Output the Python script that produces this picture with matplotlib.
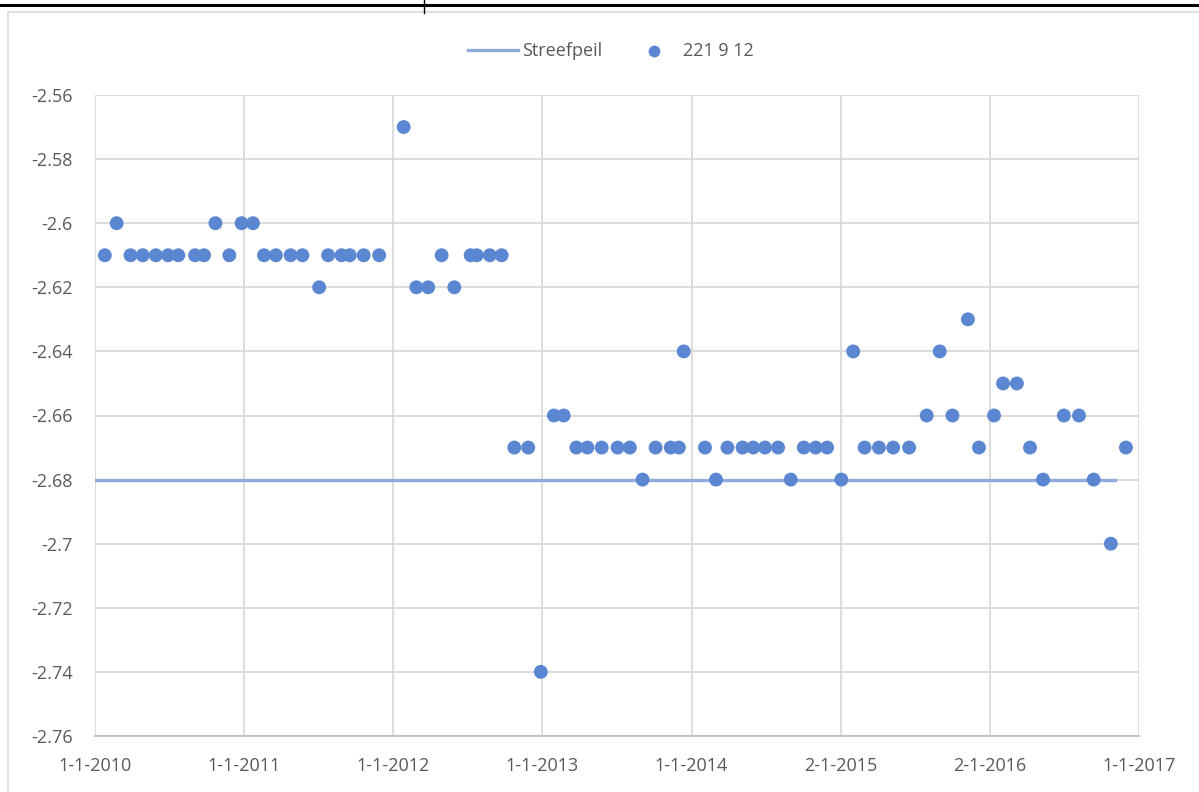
import matplotlib
matplotlib.use("Agg")
import matplotlib.pyplot as plt
import matplotlib.dates as mdates
from matplotlib.lines import Line2D
from matplotlib.patches import Rectangle
import numpy as np
import pandas as pd

plt.rcParams['font.family'] = ['Open Sans', 'DejaVu Sans']

# measurement dates and levels (221 9 12)
meet_datums = [
    '2010-01-25', '2010-02-23', '2010-03-29', '2010-04-28', '2010-05-30', '2010-06-29',
    '2010-07-24', '2010-09-03', '2010-09-25', '2010-10-23', '2010-11-26', '2010-12-26',
    '2011-01-23', '2011-02-19', '2011-03-20', '2011-04-25', '2011-05-24', '2011-07-04',
    '2011-07-26', '2011-08-28', '2011-09-17', '2011-10-21', '2011-11-28', '2012-01-27',
    '2012-02-27', '2012-03-27', '2012-04-29', '2012-05-30', '2012-07-09', '2012-07-24',
    '2012-08-25', '2012-09-23', '2012-10-24', '2012-11-27', '2012-12-28', '2013-01-29',
    '2013-02-22', '2013-03-25', '2013-04-21', '2013-05-26', '2013-07-04', '2013-08-03',
    '2013-09-03', '2013-10-05', '2013-11-11', '2013-12-01', '2013-12-13', '2014-02-03',
    '2014-03-02', '2014-03-30', '2014-05-06', '2014-06-01', '2014-06-30', '2014-08-01',
    '2014-09-01', '2014-10-03', '2014-11-01', '2014-11-29', '2015-01-03', '2015-02-01',
    '2015-03-01', '2015-04-05', '2015-05-10', '2015-06-18', '2015-07-31', '2015-09-01',
    '2015-10-02', '2015-11-09', '2015-12-06', '2016-01-12', '2016-02-03', '2016-03-08',
    '2016-04-09', '2016-05-11', '2016-07-01', '2016-08-07', '2016-09-12', '2016-10-24',
    '2016-11-30',
]
meet_waarden = [
    -2.61, -2.60, -2.61, -2.61, -2.61, -2.61,
    -2.61, -2.61, -2.61, -2.60, -2.61, -2.60,
    -2.60, -2.61, -2.61, -2.61, -2.61, -2.62,
    -2.61, -2.61, -2.61, -2.61, -2.61, -2.57,
    -2.62, -2.62, -2.61, -2.62, -2.61, -2.61,
    -2.61, -2.61, -2.67, -2.67, -2.74, -2.66,
    -2.66, -2.67, -2.67, -2.67, -2.67, -2.67,
    -2.68, -2.67, -2.67, -2.67, -2.64, -2.67,
    -2.68, -2.67, -2.67, -2.67, -2.67, -2.67,
    -2.68, -2.67, -2.67, -2.67, -2.68, -2.64,
    -2.67, -2.67, -2.67, -2.67, -2.66, -2.64,
    -2.66, -2.63, -2.67, -2.66, -2.65, -2.65,
    -2.67, -2.68, -2.66, -2.66, -2.68, -2.70,
    -2.67,
]

# target level line
streef_datums = ['2010-01-01', '2016-11-03']
streef_waarden = [-2.68, -2.68]

x_labels = ['1-1-2010', '1-1-2011', '1-1-2012', '1-1-2013',
            '1-1-2014', '2-1-2015', '2-1-2016', '1-1-2017']

W, H = 1199, 792
fig = plt.figure(figsize=(W / 100, H / 100), dpi=100)

# chart frame and the page line above it
fig.add_artist(Rectangle((8 / W, -0.05), 1.2, 1 - 12 / H + 0.05, transform=fig.transFigure,
                         fill=False, edgecolor='#D9D9D9', linewidth=1.2))
fig.add_artist(Line2D([0, 1], [1 - 5 / H, 1 - 5 / H], transform=fig.transFigure,
                      color='black', linewidth=2.2))
fig.add_artist(Line2D([424 / W, 424 / W], [1, 1 - 13 / H], transform=fig.transFigure,
                      color='black', linewidth=1.0))

ax = fig.add_axes([95 / W, 1 - 736 / H, (1139 - 95) / W, (736 - 95) / H])

d_meet = pd.to_datetime(meet_datums)
d_streef = pd.to_datetime(streef_datums)

ax.plot(d_streef, streef_waarden, color='#8FAADC', linewidth=2.4, label='Streefpeil', zorder=3)
ax.scatter(d_meet, meet_waarden, s=100, color='#5B87D2', edgecolors='none', label='221 9 12', zorder=4)

x0 = mdates.date2num(pd.Timestamp('2010-01-01'))
x1 = mdates.date2num(pd.Timestamp('2017-01-01'))
ax.set_xlim(x0, x1)
ax.set_xticks(np.linspace(x0, x1, len(x_labels)))
ax.set_xticklabels(x_labels)
ax.set_ylim(-2.76, -2.56)
ax.set_yticks(np.arange(-2.76, -2.5599, 0.02))
ax.yaxis.set_major_formatter(plt.FuncFormatter(lambda v, p: f'{v:.2f}'.rstrip('0').rstrip('.')))

ax.grid(True, color='#D9D9D9', linewidth=1.3)
ax.set_axisbelow(True)
for s in ['top', 'right', 'left']:
    ax.spines[s].set_visible(False)
ax.spines['bottom'].set_color('#BFBFBF')
ax.spines['bottom'].set_linewidth(1.3)
ax.tick_params(axis='both', length=0, labelsize=13, colors='#595959')
ax.tick_params(axis='x', pad=15)
ax.tick_params(axis='y', pad=16)

ax.legend(loc='upper center', bbox_to_anchor=(611 / W, 1 - 26 / H), bbox_transform=fig.transFigure,
          ncol=2, frameon=False, fontsize=13, labelcolor='#595959',
          handlelength=2.8, handletextpad=0.2, columnspacing=1.5, markerscale=0.85)

fig.savefig('out.png', dpi=100)
